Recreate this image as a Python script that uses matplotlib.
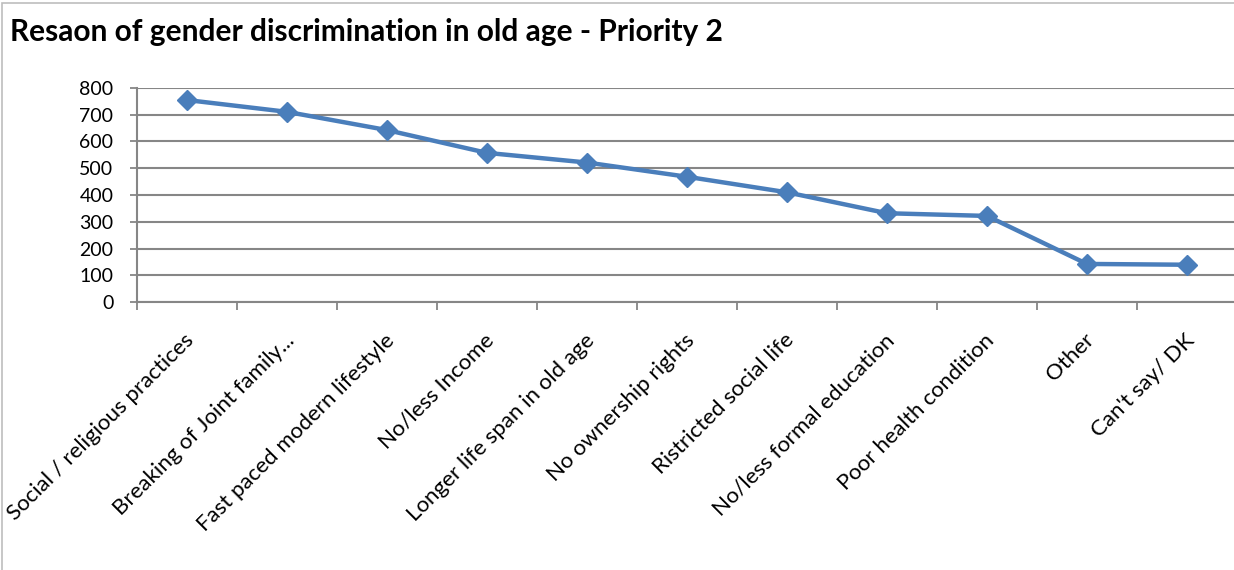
import matplotlib
matplotlib.use("Agg")
import matplotlib.pyplot as plt
from matplotlib.patches import Rectangle
import numpy as np

categories = ["Social / religious practices", "Breaking of Joint family...",
              "Fast paced modern lifestyle", "No/less Income",
              "Longer life span in old age", "No ownership rights",
              "Ristricted social life", "No/less formal education",
              "Poor health condition", "Other", "Can't say/ DK"]
values = [754, 710, 642, 557, 521, 468, 410, 332, 322, 143, 140]
yticks = [0, 100, 200, 300, 400, 500, 600, 700, 800]
title = "Resaon of gender discrimination in old age - Priority 2"

plt.rcParams['font.family'] = ['Lato', 'DejaVu Sans']

W, H = 1234, 570
fig = plt.figure(figsize=(W / 100, H / 100), dpi=100)
fig.patch.set_facecolor('white')

# outer chart frame
fig.patches.append(Rectangle((2 / W, -0.05), 1.1, 1 - 3 / H + 0.05,
                             transform=fig.transFigure, fill=False,
                             edgecolor='#bdbdbd', linewidth=1.2))

left, right = 137 / W, 1237 / W
bottom, top = 1 - 302.3 / H, 1 - 87.7 / H
ax = fig.add_axes([left, bottom, right - left, top - bottom])
ax.set_facecolor('none')

x = np.arange(len(categories))
ax.plot(x, values, color='#4A7EBB', linewidth=3.2, marker='D',
        markersize=10, markerfacecolor='#4A7EBB', markeredgecolor='#4A7EBB',
        zorder=3, clip_on=False)

ax.set_xlim(-0.5, len(categories) - 0.5)
ax.set_ylim(0, 800)
ax.set_yticks(yticks)
ax.set_yticklabels([str(v) for v in yticks], fontsize=14)
ax.yaxis.grid(True, color='#868686', linewidth=1.5)
ax.set_axisbelow(True)

ax.set_xticks(x)
ax.set_xticklabels([])
ax.set_xticks(np.arange(-0.5, len(categories) + 0.5, 1), minor=True)
ax.tick_params(axis='x', which='major', length=0)
ax.tick_params(axis='x', which='minor', length=6, color='#868686', width=1.3)
ax.tick_params(axis='y', length=5, color='#868686', width=1.3, pad=12)

for s in ['top', 'right']:
    ax.spines[s].set_visible(False)
for s in ['left', 'bottom']:
    ax.spines[s].set_color('#868686')
    ax.spines[s].set_linewidth(1.5)

for xi, lab in zip(x, categories):
    ax.annotate(lab, xy=(xi, 0), xycoords='data', xytext=(3, -25),
                textcoords='offset points', rotation=45, ha='right',
                va='center', rotation_mode='anchor', fontsize=16)

fig.text(10 / W, 1 - 32 / H, title, fontsize=21.5, fontweight='bold',
         va='center', ha='left')

fig.savefig('out.png', dpi=100)
